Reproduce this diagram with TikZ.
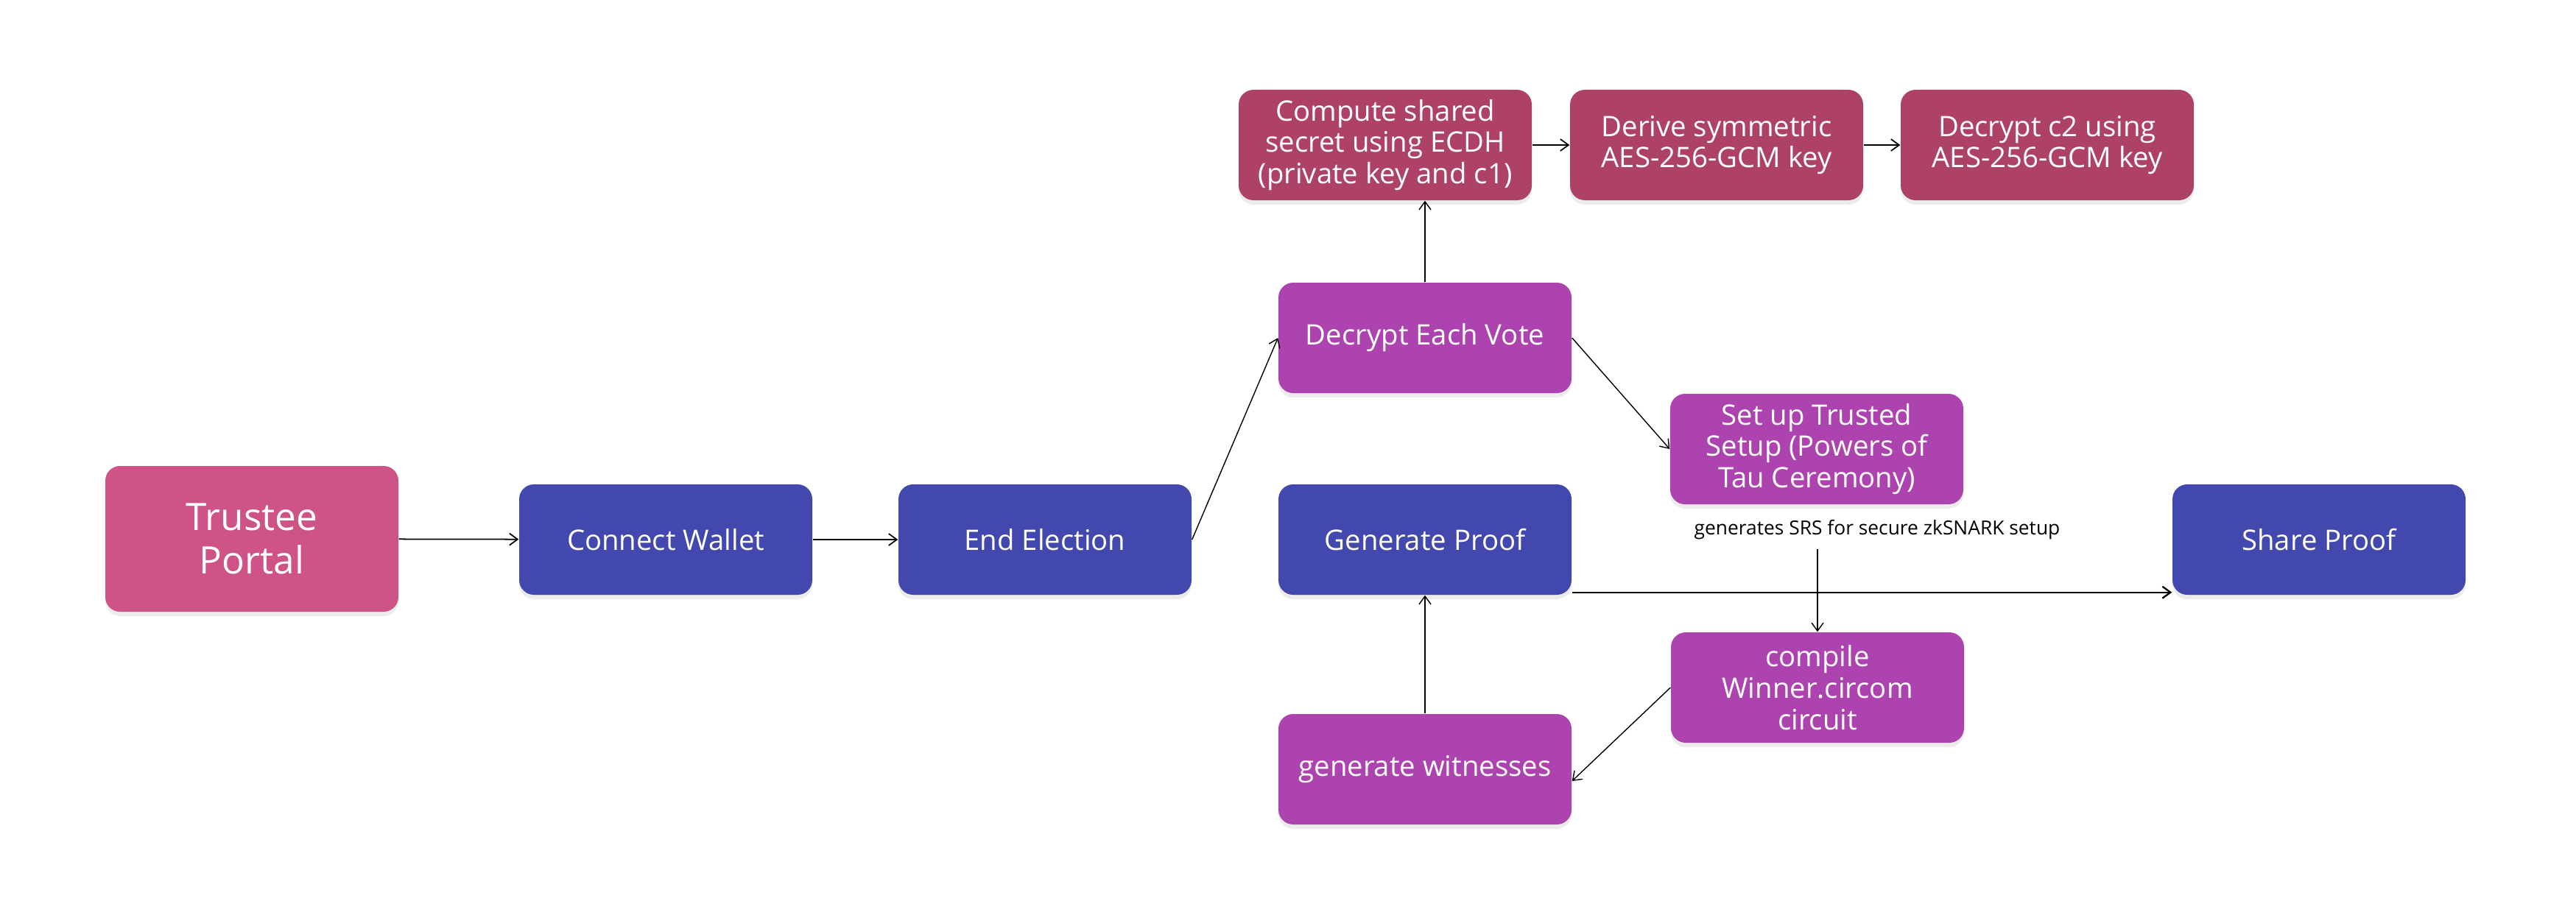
\documentclass[tikz,border=0pt]{standalone}
\usepackage{fontspec}
\setmainfont{Open Sans}
\usetikzlibrary{arrows.meta,shadows}
\definecolor{portalpink}{HTML}{CE5488}
\definecolor{stepblue}{HTML}{4348AE}
\definecolor{steppurple}{HTML}{AD43AE}
\definecolor{cryptred}{HTML}{AE4266}

\begin{document}
\begin{tikzpicture}[x=1mm, y=-1mm,
        box/.style={
            rounded corners=2mm,
            minimum width=39.8mm,
            minimum height=15mm,
            text=white,
            align=center,
            font=\fontsize{10.9}{12.2}\selectfont,
            drop shadow={shadow xshift=0mm, shadow yshift=-0.6mm, opacity=0.15}
        },
        link/.style={-{Straight Barb[length=1.1mm,width=1.6mm]}, line width=0.5pt},
        thinlink/.style={link, line width=0.4pt},
        boldlink/.style={link, line width=0.65pt}
    ]
    \useasboundingbox (0,0) rectangle (349.8,124.2);
    % main row
    \node[box, fill=portalpink, minimum height=19.8mm, font=\fontsize{14.6}{17}\selectfont] (portal) at (34.2,73.2) {Trustee\\Portal};
    \node[box, fill=stepblue] (wallet) at (90.4,73.3) {Connect Wallet};
    \node[box, fill=stepblue] (endvote) at (141.9,73.3) {End Election};
    \node[box, fill=stepblue] (proof) at (193.5,73.3) {Generate Proof};
    \node[box, fill=stepblue] (share) at (314.9,73.3) {Share Proof};
    % decryption
    \node[box, fill=steppurple] (decrypt) at (193.5,45.9) {Decrypt Each Vote};
    \node[box, fill=cryptred] (ecdh) at (188.1,19.7) {Compute shared\\secret using ECDH\\(private key and c1)};
    \node[box, fill=cryptred] (derive) at (233.1,19.7) {Derive symmetric\\AES-256-GCM key};
    \node[box, fill=cryptred] (decc2) at (278.0,19.7) {Decrypt c2 using\\AES-256-GCM key};
    % proving
    \node[box, fill=steppurple] (setup) at (246.7,61.0) {Set up Trusted\\Setup (Powers of\\Tau Ceremony)};
    \node[box, fill=steppurple] (circuit) at (246.8,93.4) {compile\\Winner.circom\\circuit};
    \node[box, fill=steppurple] (witness) at (193.5,104.5) {generate witnesses};
    \node[font=\fontsize{7.5}{9}\selectfont] (srs) at (254.9,72.0) {generates SRS for secure zkSNARK setup};

    \draw[link] (portal) -- (wallet);
    \draw[link] (wallet) -- (endvote);
    \draw[thinlink] (endvote.east) -- (decrypt.west);
    \draw[thinlink] (decrypt.north) -- (decrypt.north |- ecdh.south);
    \draw[link] (ecdh) -- (derive);
    \draw[link] (derive) -- (decc2);
    \draw[thinlink] (decrypt.east) -- (setup.west);
    \draw[thinlink] (circuit.north |- srs.south) -- (circuit.north);
    \draw[boldlink] ([yshift=0.4mm]proof.south east) -- ([yshift=0.4mm]share.south west);
    \draw[thinlink] (witness.north) -- (proof.south);
    \draw[thinlink] (circuit.west) -- ([yshift=-1.6mm]witness.east);
\end{tikzpicture}
\end{document}
